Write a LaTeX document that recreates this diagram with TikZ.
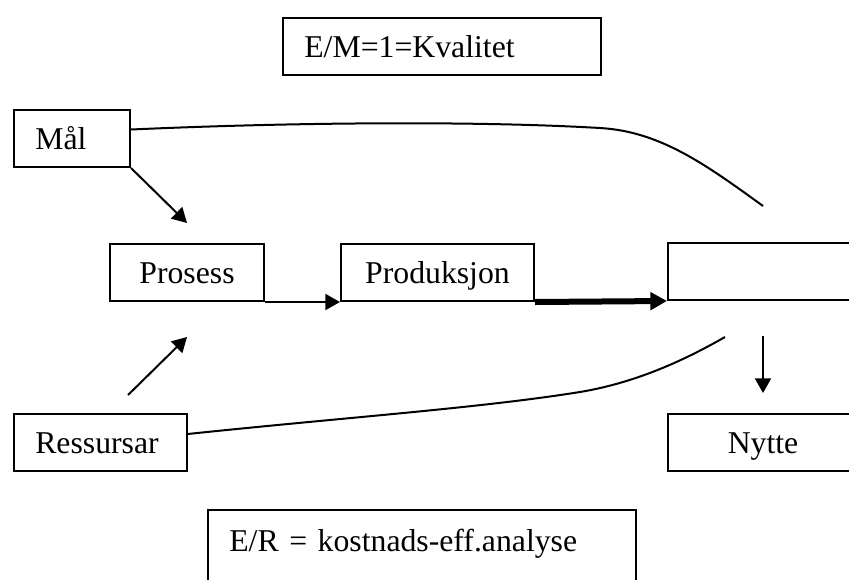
\documentclass[tikz,border=0pt]{standalone}
\usepackage{fontspec}
\setmainfont{Liberation Serif}
\usetikzlibrary{arrows.meta}

\begin{document}
\begin{tikzpicture}[x=0.75pt, y=-0.75pt,
    boks/.style={draw, line width=1.5pt, inner xsep=0pt, inner ysep=0pt,
        text height=29.25pt, text depth=13.5pt, anchor=north west,
        font=\fontsize{23.8pt}{28pt}\selectfont},
    venstre/.style={inner xsep=16pt, text width=#1, align=left},
    pil/.style={line width=1.5pt, -{Triangle[length=11pt,width=12pt]}},
    tjukkpil/.style={line width=4.5pt, -{Triangle[length=12.5pt,width=13pt]}},
    linje/.style={line width=1.5pt}]
    \useasboundingbox (0,0) rectangle (849,579);
    \clip (0,0) rectangle (849,579);

    \node [boks, venstre=206.5pt] (em) at (282,17) {E/M=1=Kvalitet};
    \node [boks, venstre=55pt] (maal) at (13,109) {Mål};
    \node [boks, minimum width=115.5pt] (prosess) at (109,243) {Prosess};
    \node [boks, minimum width=144.75pt] (prod) at (340,243) {Produksjon};
    \node [boks, minimum width=142.5pt] (eff) at (667,242) {};
    \node [boks, minimum width=142.5pt] (nytte) at (667,413) {Nytte};
    \node [boks, venstre=97.75pt] (ress) at (13,413) {Ressursar};
    \node [boks, venstre=289pt, text height=30.75pt, text depth=45pt] (er) at (207,509) {E/R = kostnads-eff.analyse};

    \coordinate (maalpil) at (187,223);
    \coordinate (ressfra) at (128,395);
    \coordinate (resstil) at (187,337);
    \coordinate (nedfra) at (763,336);
    \coordinate (nedtil) at (763,393);
    \coordinate (toppende) at (763,206);
    \coordinate (botnende) at (725,337);

    \draw [pil] (maal.south east) -- (maalpil);
    \draw [pil] (ressfra) -- (resstil);
    \draw [pil] (prosess.south east) -- (prod.south west);
    \draw [tjukkpil] (prod.south east) -- (eff.south west);
    \draw [pil] (nedfra) -- (nedtil);

    \draw [linje] ([yshift=6.75pt]maal.east) .. controls (300,122) and (480,121) .. (600,128)
        .. controls (660,131.5) and (705,164) .. (toppende);
    \draw [linje] ([yshift=6.4pt]ress.east) .. controls (350,417) and (480,408) .. (580,392)
        .. controls (640,382) and (690,357) .. (botnende);
\end{tikzpicture}
\end{document}
